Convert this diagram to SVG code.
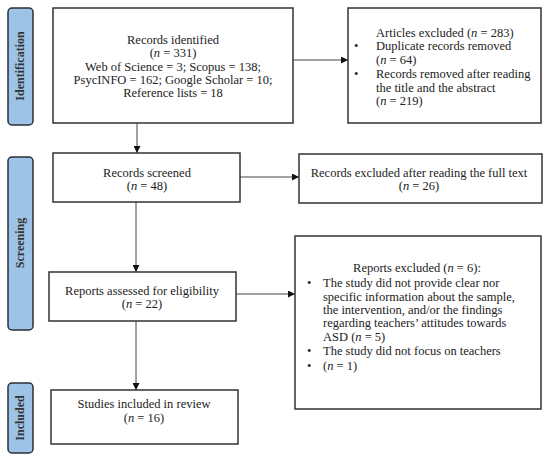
<svg xmlns="http://www.w3.org/2000/svg" width="550" height="460" viewBox="0 0 550 460">
<defs>
<marker id="ah" viewBox="0 0 10 10" refX="10" refY="5" markerWidth="7" markerHeight="7" markerUnits="userSpaceOnUse" orient="auto"><path d="M0,0 L10,5 L0,10 z" fill="#111"/></marker>
</defs>
<style>
.box{fill:#fff;stroke:#333;stroke-width:1.5}
.side{fill:#9DC3E6;stroke:#2b2f36;stroke-width:1.5}
.t{font-family:"Liberation Serif","Times New Roman",serif;font-size:12.5px;fill:#222}
.c{text-anchor:middle}
.s{font-family:"Liberation Serif","Times New Roman",serif;font-size:12px;font-weight:bold;fill:#333;text-anchor:middle}
.ln{stroke:#444;stroke-width:1;fill:none;marker-end:url(#ah)}
</style>
<rect width="550" height="460" fill="#fff"/>
<g id="phase-identification"><rect class="side" x="8" y="8" width="25" height="117" rx="4"/><text class="s" transform="translate(24,66) rotate(-90)">Identification</text></g>
<g id="phase-screening"><rect class="side" x="8" y="157" width="25" height="173" rx="4"/><text class="s" transform="translate(24,243) rotate(-90)">Screening</text></g>
<g id="phase-included"><rect class="side" x="8" y="383" width="25" height="70" rx="4"/><text class="s" transform="translate(24,418) rotate(-90)">Included</text></g>

<g id="connectors">
<line class="ln" x1="293" y1="60" x2="348" y2="60"/>
<line class="ln" x1="137" y1="123" x2="137" y2="153"/>
<line class="ln" x1="240" y1="177" x2="299" y2="177"/>
<line class="ln" x1="136" y1="202" x2="136" y2="272"/>
<line class="ln" x1="236" y1="294" x2="295" y2="294"/>
<line class="ln" x1="136" y1="321" x2="136" y2="390"/>
</g>

<g id="records-identified"><rect class="box" x="53" y="8" width="240" height="115"/>
<text class="t c" x="173" y="44">Records identified</text>
<text class="t c" x="173" y="57">(<tspan font-style="italic">n</tspan> = 331)</text>
<text class="t c" x="173" y="71">Web of Science = 3; Scopus = 138;</text>
<text class="t c" x="173" y="84">PsycINFO = 162; Google Scholar = 10;</text>
<text class="t c" x="173" y="97">Reference lists = 18</text>
</g>

<g id="articles-excluded"><rect class="box" x="348" y="8" width="193" height="115"/>
<text class="t" x="376" y="37">Articles excluded (<tspan font-style="italic">n</tspan> = 283)</text>
<text class="t" x="354" y="50">•</text>
<text class="t" x="376" y="50">Duplicate records removed</text>
<text class="t" x="376" y="64">(<tspan font-style="italic">n</tspan> = 64)</text>
<text class="t" x="354" y="78">•</text>
<text class="t" x="376" y="78">Records removed after reading</text>
<text class="t" x="376" y="92">the title and the abstract</text>
<text class="t" x="376" y="105">(<tspan font-style="italic">n</tspan> = 219)</text>
</g>

<g id="records-screened"><rect class="box" x="53" y="153" width="187" height="49"/>
<text class="t c" x="147" y="177">Records screened</text>
<text class="t c" x="147" y="190">(<tspan font-style="italic">n</tspan> = 48)</text>
</g>

<g id="records-excluded"><rect class="box" x="299" y="154" width="243" height="49"/>
<text class="t c" x="419" y="177">Records excluded after reading the full text</text>
<text class="t c" x="419" y="190">(<tspan font-style="italic">n</tspan> = 26)</text>
</g>

<g id="reports-assessed"><rect class="box" x="49" y="272" width="187" height="49"/>
<text class="t c" x="142" y="295">Reports assessed for eligibility</text>
<text class="t c" x="142" y="308">(<tspan font-style="italic">n</tspan> = 22)</text>
</g>

<g id="reports-excluded"><rect class="box" x="295" y="236" width="246" height="173"/>
<text class="t c" x="417" y="272">Reports excluded (<tspan font-style="italic">n</tspan> = 6):</text>
<text class="t" x="307" y="287">•</text>
<text class="t" x="323" y="287">The study did not provide clear nor</text>
<text class="t" x="323" y="301">specific information about the sample,</text>
<text class="t" x="323" y="314">the intervention, and/or the findings</text>
<text class="t" x="323" y="327">regarding teachers’ attitudes towards</text>
<text class="t" x="323" y="341">ASD (<tspan font-style="italic">n</tspan> = 5)</text>
<text class="t" x="307" y="355">•</text>
<text class="t" x="323" y="355">The study did not focus on teachers</text>
<text class="t" x="307" y="370">•</text>
<text class="t" x="323" y="370">(<tspan font-style="italic">n</tspan> = 1)</text>
</g>

<g id="studies-included"><rect class="box" x="51" y="390" width="187" height="54"/>
<text class="t c" x="144" y="408">Studies included in review</text>
<text class="t c" x="144" y="422">(<tspan font-style="italic">n</tspan> = 16)</text>
</g>
</svg>
